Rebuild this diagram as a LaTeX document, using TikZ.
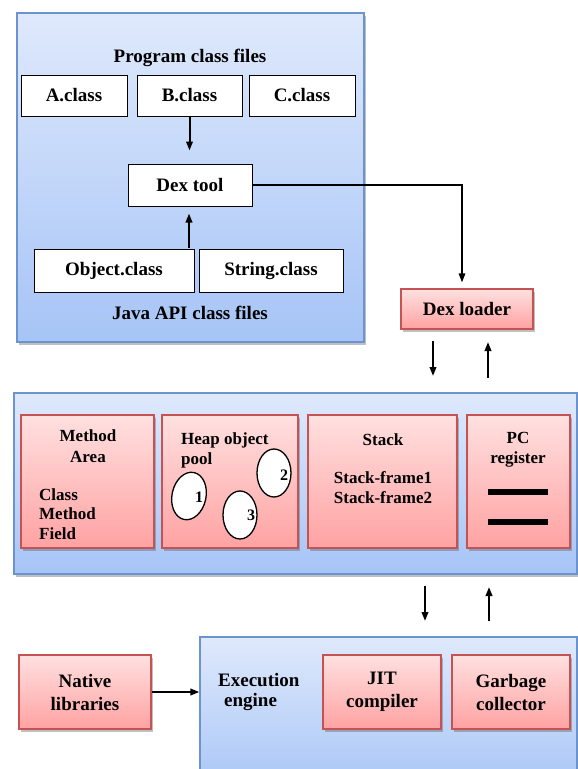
\documentclass[tikz,border=0pt]{standalone}
\usepackage{fontspec}
\setmainfont{Liberation Serif}
\usetikzlibrary{arrows.meta,shadows,shapes.geometric,calc}
\definecolor{bluetop}{HTML}{DFE9FC}
\definecolor{bluebot}{HTML}{A6C4F6}
\definecolor{blueedge}{HTML}{6A93CF}
\definecolor{pinktop}{HTML}{FFE0E0}
\definecolor{pinkbot}{HTML}{FFA2A2}
\definecolor{pinkedge}{HTML}{C65353}
\tikzset{
  shad/.style={drop shadow={shadow xshift=1.5pt,shadow yshift=-2.5pt,opacity=0.35,fill=black!70}},
  bluebox/.style={draw=blueedge,line width=1.2pt,top color=bluetop,bottom color=bluebot,shad,inner sep=0pt},
  pinkbox/.style={draw=pinkedge,line width=1.2pt,top color=pinktop,bottom color=pinkbot,shad,inner sep=0pt,align=center,font=\fontsize{19}{23}\selectfont\bfseries},
  whitebox/.style={draw=black,line width=1pt,fill=white,inner sep=0pt,font=\fontsize{19}{22}\selectfont\bfseries},
  lbl/.style={inner sep=0pt,font=\fontsize{19}{22}\selectfont\bfseries},
  mlbl/.style={inner sep=0pt,align=center,font=\fontsize{17}{20}\selectfont\bfseries},
  arr/.style={line width=2pt,-{Triangle[length=9pt,width=6.5pt]}},
  ell/.style={ellipse,draw=black,line width=1.3pt,fill=white,minimum width=34pt,minimum height=48pt,inner sep=0pt},
  num/.style={inner sep=0pt,font=\fontsize{16}{18}\selectfont\bfseries}
}
\begin{document}
\begin{tikzpicture}[x=1pt,y=-1pt]
\useasboundingbox (0,0) rectangle (578,769);
\fill[white] (0,0) rectangle (578,769);

% ---------- top: class files ----------
\node[bluebox,minimum width=347pt,minimum height=329pt] (top) at (190.5,177.5) {};
\node[lbl] (progl) at (190,58) {Program class files};
\node[whitebox,minimum width=106pt,minimum height=41pt] (a) at (74,95.5) {A.class};
\node[whitebox,minimum width=105pt,minimum height=41pt] (b) at (189.5,95.5) {B.class};
\node[whitebox,minimum width=106pt,minimum height=41pt] (c) at (302,95.5) {C.class};
\node[whitebox,minimum width=124pt,minimum height=42pt] (dex) at (190,185) {Dex tool};
\node[whitebox,minimum width=160pt,minimum height=43pt] (obj) at (114,270.5) {Object.class};
\node[whitebox,minimum width=144pt,minimum height=43pt] (str) at (271,270.5) {String.class};
\node[lbl] (javal) at (190,313) {Java API class files};
\coordinate (apis) at (189,248);
\draw[arr,shorten >=13pt] (b.south) -- (b.south |- dex.north);
\draw[arr,shorten >=7pt] (apis) -- (apis |- dex.south);

% ---------- dex loader ----------
\node[pinkbox,minimum width=132pt,minimum height=40pt] (loader) at (467,309) {Dex loader};
\draw[line width=1.5pt,-{Triangle[length=9pt,width=6.5pt]},shorten >=6pt] (dex.east) -| ([xshift=-5pt]loader.north);
\coordinate (dla) at (433,341);
\coordinate (dlb) at (433,376);
\coordinate (dlc) at (488,378);
\coordinate (dld) at (488,342);
\draw[arr] (dla) -- (dlb);
\draw[arr] (dlc) -- (dld);

% ---------- runtime data areas ----------
\node[bluebox,minimum width=563pt,minimum height=181pt] (mid) at (295.5,483.5) {};
\node[pinkbox,minimum width=133pt,minimum height=133pt] (meth) at (87.5,481.5) {};
\node[pinkbox,minimum width=136pt,minimum height=133pt] (heap) at (230,481.5) {};
\node[pinkbox,minimum width=149pt,minimum height=133pt] (stack) at (382.5,481.5) {};
\node[pinkbox,minimum width=103pt,minimum height=133pt] (pc) at (518.5,481.5) {};

\node[mlbl,font=\fontsize{17}{21}\selectfont\bfseries] (methl) at (88,446.5) {Method\\Area};
\node[mlbl,align=left,anchor=west,font=\fontsize{17}{19.5}\selectfont\bfseries] (cmf) at (39,514) {Class\\Method\\Field};

\node[mlbl,align=left,anchor=west] (heapl) at (181,450) {Heap object\\pool};
\node[ell,rotate=-12] (e1) at (189,496) {};
\node[ell] (e2) at (274,473) {};
\node[ell] (e3) at (240,515) {};
\node[num] (n1) at (199,497) {1};
\node[num] (n2) at (284,475) {2};
\node[num] (n3) at (251,515) {3};

\node[mlbl] (stackl) at (383,440) {Stack};
\node[mlbl] (frames) at (383,488) {Stack-frame1\\Stack-frame2};

\node[mlbl] (pcl) at (518,450) {PC\\register};
\fill[black] (488,489) rectangle (548,495);
\fill[black] (488,519) rectangle (548,525);

\coordinate (ma) at (425,586);
\coordinate (mb) at (425,621);
\coordinate (mc) at (489,621);
\coordinate (md) at (489,587);
\draw[arr] (ma) -- (mb);
\draw[arr] (mc) -- (md);

% ---------- execution engine ----------
\begin{scope}
\clip (0,0) rectangle (578,769);
\node[bluebox,minimum width=377pt,minimum height=160pt] (eng) at (388.5,717) {};
\end{scope}
\node[lbl,align=left,anchor=west,font=\fontsize{19}{20}\selectfont\bfseries] (engl) at (218,692) {Execution\\\hspace{6pt}engine};
\node[pinkbox,minimum width=132pt,minimum height=74pt] (nat) at (85,692) {Native\\libraries};
\node[pinkbox,minimum width=118pt,minimum height=74pt] (jit) at (382,692) {JIT\\compiler};
\node[pinkbox,minimum width=118pt,minimum height=74pt] (gc) at (511,692) {Garbage\\collector};
\draw[arr] (nat.east) -- (nat.east -| eng.west);
\end{tikzpicture}
\end{document}
